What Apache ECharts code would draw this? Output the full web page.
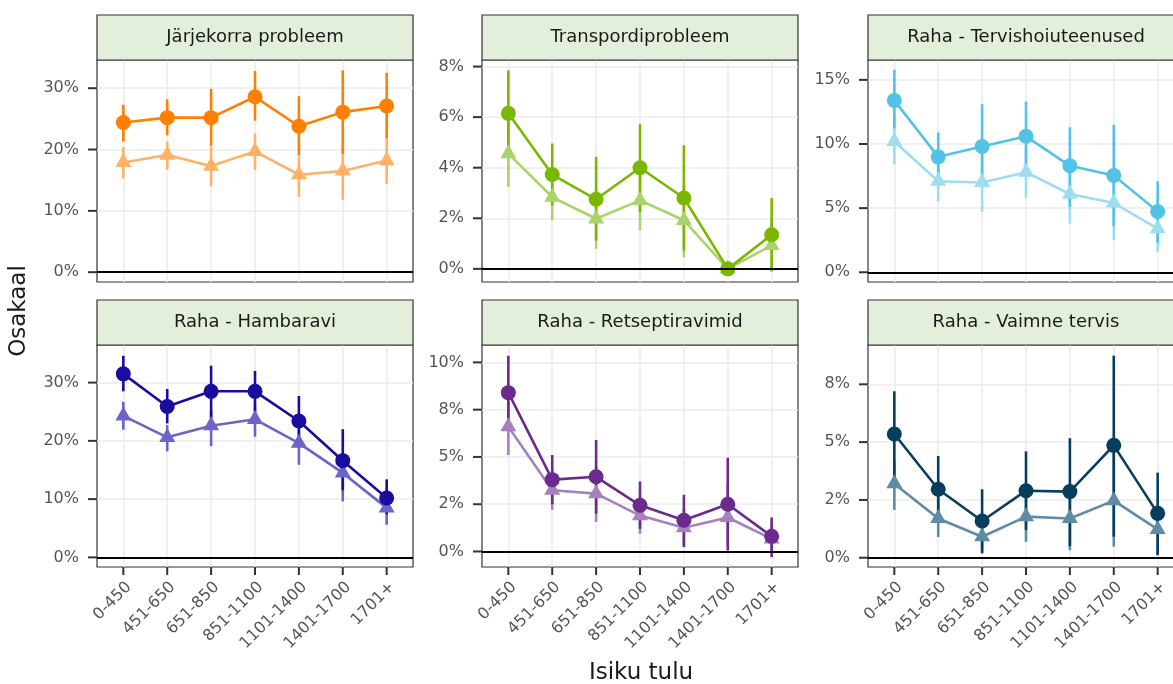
<!DOCTYPE html>
<html>
<head>
<meta charset="utf-8">
<script src="https://cdn.jsdelivr.net/npm/echarts@6/dist/echarts.min.js"></script>
<style>
  html, body { margin: 0; padding: 0; background: #ffffff; }
  #chart { width: 1173px; height: 684px; }
</style>
</head>
<body>
<div id="chart"></div>
<script>
// Income groups on the x axis
const incomeGroups = ['0-450', '451-650', '651-850', '851-1100', '1101-1400', '1401-1700', '1701+'];

const panelTitles = [
  'Järjekorra probleem', 'Transpordiprobleem', 'Raha - Tervishoiuteenused',
  'Raha - Hambaravi', 'Raha - Retseptiravimid', 'Raha - Vaimne tervis'
];

// Shares in percent. "A" = circle series, "B" = triangle series, with interval bounds.
const queueA     = [24.4, 25.2, 25.2, 28.6, 23.8, 26.1, 27.1];
const queueALow  = [21.3, 22.3, 20.6, 24.7, 19.0, 19.3, 21.8];
const queueAHigh = [27.3, 28.2, 29.9, 32.8, 28.7, 32.9, 32.5];
const queueB     = [17.9, 19.1, 17.3, 19.7, 15.9, 16.5, 18.2];
const queueBLow  = [15.3, 16.7, 14.0, 16.7, 12.3, 11.8, 14.4];
const queueBHigh = [20.4, 21.3, 20.5, 22.6, 18.8, 20.7, 21.8];

const transportA     = [6.15, 3.73, 2.75, 4.0, 2.8, 0, 1.35];
const transportALow  = [4.5, 2.5, 1.12, 2.25, 0.73, 0, -0.1];
const transportAHigh = [7.85, 4.96, 4.43, 5.73, 4.89, 0, 2.8];
const transportB     = [4.56, 2.84, 1.98, 2.71, 1.92, 0, 0.93];
const transportBLow  = [3.24, 1.92, 0.79, 1.52, 0.46, 0, 0.0];
const transportBHigh = [5.9, 3.8, 3.2, 3.9, 3.3, 0, 2.0];

const careA     = [13.4, 9.0, 9.8, 10.6, 8.3, 7.55, 4.74];
const careALow  = [11.2, 7.2, 6.7, 8.0, 5.1, 3.6, 2.3];
const careAHigh = [15.8, 10.9, 13.1, 13.3, 11.3, 11.5, 7.1];
const careB     = [10.2, 7.1, 7.0, 7.8, 6.1, 5.4, 3.4];
const careBLow  = [8.4, 5.5, 4.7, 5.8, 3.8, 2.5, 1.6];
const careBHigh = [12.2, 9.0, 9.0, 9.8, 8.3, 7.5, 4.9];

const dentalA     = [31.5, 25.9, 28.5, 28.5, 23.4, 16.6, 10.2];
const dentalALow  = [28.5, 23.0, 24.0, 25.0, 19.5, 11.5, 7.4];
const dentalAHigh = [34.6, 28.9, 32.9, 32.0, 27.7, 22.0, 13.4];
const dentalB     = [24.3, 20.6, 22.6, 23.7, 19.6, 14.5, 8.5];
const dentalBLow  = [21.9, 18.2, 19.1, 20.7, 15.9, 9.6, 5.6];
const dentalBHigh = [26.7, 22.7, 25.3, 25.9, 21.9, 17.9, 11.0];

const medsA     = [8.4, 3.8, 3.95, 2.44, 1.65, 2.5, 0.8];
const medsALow  = [6.8, 2.5, 2.0, 1.2, 0.23, 0.05, -0.3];
const medsAHigh = [10.35, 5.1, 5.9, 3.7, 3.0, 4.96, 1.8];
const medsB     = [6.6, 3.24, 3.06, 1.9, 1.26, 1.8, 0.67];
const medsBLow  = [5.1, 2.2, 1.56, 0.94, 0.3, 0.3, 0.0];
const medsBHigh = [8.0, 4.3, 4.5, 3.0, 2.3, 3.6, 1.5];

const mentalA     = [5.35, 2.96, 1.59, 2.9, 2.86, 4.86, 1.92];
const mentalALow  = [3.5, 1.6, 0.19, 1.2, 0.5, 0.91, 0.12];
const mentalAHigh = [7.2, 4.4, 2.96, 4.6, 5.17, 8.74, 3.68];
const mentalB     = [3.2, 1.7, 0.91, 1.78, 1.7, 2.47, 1.23];
const mentalBLow  = [2.07, 0.9, 0.3, 0.69, 0.33, 0.48, 0.1];
const mentalBHigh = [4.16, 2.6, 1.6, 2.9, 2.9, 4.5, 2.3];

// Y tick positions and their printed labels for each panel
const queueTicks = [0, 10, 20, 30];
const queueTickLabels = ['0%', '10%', '20%', '30%'];
const transportTicks = [0, 2, 4, 6, 8];
const transportTickLabels = ['0%', '2%', '4%', '6%', '8%'];
const careTicks = [0, 5, 10, 15];
const careTickLabels = ['0%', '5%', '10%', '15%'];
const dentalTicks = [0, 10, 20, 30];
const dentalTickLabels = ['0%', '10%', '20%', '30%'];
const medsTicks = [0, 2.5, 5, 7.5, 10];
const medsTickLabels = ['0%', '2%', '5%', '8%', '10%'];
const mentalTicks = [0, 2.5, 5, 7.5];
const mentalTickLabels = ['0%', '2%', '5%', '8%'];

const panels = [
  { a: queueA, aLow: queueALow, aHigh: queueAHigh, b: queueB, bLow: queueBLow, bHigh: queueBHigh,
    ticks: queueTicks, tickLabels: queueTickLabels, yMin: -1.6, yMax: 34.6, dark: '#ff7f00', light: '#ffb266' },
  { a: transportA, aLow: transportALow, aHigh: transportAHigh, b: transportB, bLow: transportBLow, bHigh: transportBHigh,
    ticks: transportTicks, tickLabels: transportTickLabels, yMin: -0.52, yMax: 8.26, dark: '#7ab800', light: '#a9d46a' },
  { a: careA, aLow: careALow, aHigh: careAHigh, b: careB, bLow: careBLow, bHigh: careBHigh,
    ticks: careTicks, tickLabels: careTickLabels, yMin: -0.76, yMax: 16.55, dark: '#52c3e6', light: '#9edcf0' },
  { a: dentalA, aLow: dentalALow, aHigh: dentalAHigh, b: dentalB, bLow: dentalBLow, bHigh: dentalBHigh,
    ticks: dentalTicks, tickLabels: dentalTickLabels, yMin: -1.65, yMax: 36.45, dark: '#1a0c9c', light: '#6b64c9' },
  { a: medsA, aLow: medsALow, aHigh: medsAHigh, b: medsB, bLow: medsBLow, bHigh: medsBHigh,
    ticks: medsTicks, tickLabels: medsTickLabels, yMin: -0.82, yMax: 10.92, dark: '#6b2a8e', light: '#a680bf' },
  { a: mentalA, aLow: mentalALow, aHigh: mentalAHigh, b: mentalB, bLow: mentalBLow, bHigh: mentalBHigh,
    ticks: mentalTicks, tickLabels: mentalTickLabels, yMin: -0.4, yMax: 9.2, dark: '#073e5e', light: '#5e8ba6' }
];

// Facet layout (pixels)
const colLeft = [97, 482, 868];
const rowTop = [60, 345];
const panelW = 316;
const panelH = 222;
const stripH = 45;
const X_MIN = -0.6, X_MAX = 6.6;

const FONT = 'DejaVu Sans';
const TICK_COLOR = '#333333';
const categoryIdx = incomeGroups.map((_, i) => i);

const grids = [], xAxes = [], yAxes = [], series = [], graphics = [];

function errorBarSeries(idx, low, high, color, withZeroLine) {
  const s = {
    type: 'custom',
    xAxisIndex: idx, yAxisIndex: idx,
    silent: true,
    encode: { x: 0, y: [1, 2] },
    data: categoryIdx.map(i => [i, low[i], high[i]]),
    renderItem: function (params, api) {
      const x = api.value(0);
      const p1 = api.coord([x, api.value(1)]);
      const p2 = api.coord([x, api.value(2)]);
      return {
        type: 'line',
        shape: { x1: p1[0], y1: p1[1], x2: p2[0], y2: p2[1] },
        style: { stroke: color, lineWidth: 2.6 }
      };
    }
  };
  if (withZeroLine) {
    s.markLine = {
      silent: true, symbol: 'none', animation: false,
      label: { show: false },
      lineStyle: { color: '#000000', width: 2.2, type: 'solid' },
      data: [{ yAxis: 0 }]
    };
  }
  return s;
}

function pointSeries(idx, values, color, shape) {
  const s = {
    type: 'line',
    xAxisIndex: idx, yAxisIndex: idx,
    silent: true,
    data: categoryIdx.map(i => [i, values[i]]),
    symbol: shape,
    symbolSize: shape === 'circle' ? 15 : [16, 14],
    lineStyle: { color: color, width: 2.6 },
    itemStyle: { color: color, borderWidth: 0 }
  };
  if (shape === 'triangle') s.symbolOffset = [0, '-17%'];
  return s;
}

panels.forEach((p, idx) => {
  const row = Math.floor(idx / 3);
  const col = idx % 3;
  const left = colLeft[col];
  const top = rowTop[row];
  const bottomRow = row === 1;

  grids.push({
    left: left, top: top, width: panelW, height: panelH,
    show: true, backgroundColor: '#ffffff', borderColor: '#333333', borderWidth: 1.2,
    containLabel: false, outerBoundsMode: 'none'
  });

  xAxes.push({
    type: 'value', gridIndex: idx, min: X_MIN, max: X_MAX, position: 'bottom',
    axisLine: { show: false, onZero: false },
    axisTick: { show: false, customValues: categoryIdx },
    axisLabel: {
      show: bottomRow, customValues: categoryIdx,
      formatter: v => incomeGroups[Math.round(v)],
      rotate: 45, verticalAlign: 'top', margin: 12,
      fontFamily: FONT, fontSize: 16, color: '#555555'
    },
    splitLine: { show: true, lineStyle: { color: '#ebebeb', width: 1.5 } }
  });

  yAxes.push({
    type: 'value', gridIndex: idx, min: p.yMin, max: p.yMax, position: 'left',
    axisLine: { show: false, onZero: false },
    axisTick: { show: false, customValues: p.ticks },
    axisLabel: {
      show: true, customValues: p.ticks,
      formatter: v => {
        const k = p.ticks.findIndex(t => Math.abs(t - v) < 1e-6);
        return k >= 0 ? p.tickLabels[k] : '';
      },
      margin: 18, fontFamily: FONT, fontSize: 16, color: '#555555'
    },
    splitLine: { show: true, lineStyle: { color: '#ebebeb', width: 1.5 } }
  });

  series.push(errorBarSeries(idx, p.bLow, p.bHigh, p.light, true));
  series.push(pointSeries(idx, p.b, p.light, 'triangle'));
  series.push(errorBarSeries(idx, p.aLow, p.aHigh, p.dark, false));
  series.push(pointSeries(idx, p.a, p.dark, 'circle'));

  // facet strip
  const stripTop = top - stripH;
  graphics.push({
    type: 'rect', z: 10,
    shape: { x: left, y: stripTop, width: panelW, height: stripH },
    style: { fill: '#e2efda', stroke: '#333333', lineWidth: 1.2 }
  });
  graphics.push({
    type: 'text', z: 11,
    x: left + panelW / 2, y: stripTop + stripH / 2,
    style: {
      text: panelTitles[idx], align: 'center', verticalAlign: 'middle',
      fontFamily: FONT, fontSize: 18, fill: '#1a1a1a'
    }
  });
});

// axis titles
graphics.push({
  type: 'text', z: 11, x: 19, y: 311, rotation: Math.PI / 2,
  style: { text: 'Osakaal', align: 'center', verticalAlign: 'middle', fontFamily: FONT, fontSize: 23, fill: '#1a1a1a' }
});
graphics.push({
  type: 'text', z: 11, x: 641, y: 673,
  style: { text: 'Isiku tulu', align: 'center', verticalAlign: 'middle', fontFamily: FONT, fontSize: 23, fill: '#1a1a1a' }
});

const chart = echarts.init(document.getElementById('chart'), null, { renderer: 'canvas' });
chart.setOption({
  animation: false,
  backgroundColor: '#ffffff',
  grid: grids,
  xAxis: xAxes,
  yAxis: yAxes,
  series: series,
  graphic: graphics
});

// Outward tick marks on the panel edges, positioned through each panel's axis scales
const tickMarks = [];
panels.forEach((p, idx) => {
  p.ticks.forEach(t => {
    const c = chart.convertToPixel({ gridIndex: idx }, [X_MIN, t]);
    tickMarks.push({
      type: 'line', z: 50, silent: true,
      shape: { x1: c[0] - 9, y1: c[1], x2: c[0], y2: c[1] },
      style: { stroke: TICK_COLOR, lineWidth: 2 }
    });
  });
  if (idx >= 3) {
    categoryIdx.forEach(i => {
      const c = chart.convertToPixel({ gridIndex: idx }, [i, p.yMin]);
      tickMarks.push({
        type: 'line', z: 50, silent: true,
        shape: { x1: c[0], y1: c[1], x2: c[0], y2: c[1] + 8 },
        style: { stroke: TICK_COLOR, lineWidth: 2 }
      });
    });
  }
});
chart.setOption({ graphic: graphics.concat(tickMarks) });
</script>
</body>
</html>
